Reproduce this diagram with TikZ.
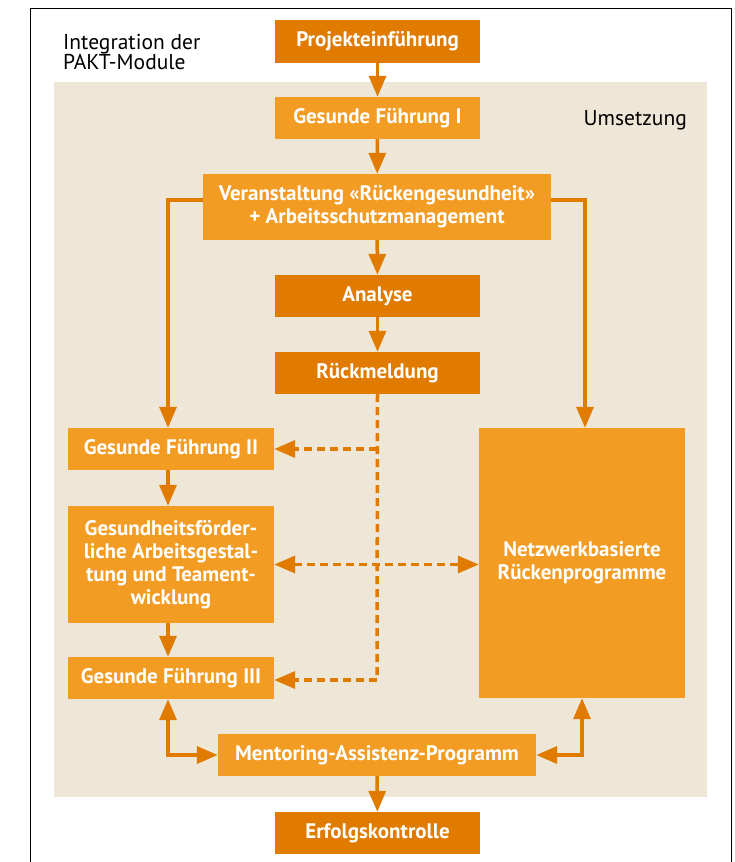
\documentclass[tikz,border=0pt]{standalone}
\usepackage{fontspec}
\setmainfont{PT Sans}
\usetikzlibrary{arrows.meta}
\definecolor{dorange}{HTML}{E07B00}
\definecolor{lorange}{HTML}{F39C24}
\definecolor{beige}{HTML}{EEE6D6}
\begin{document}
\begin{tikzpicture}[x=1pt,y=1pt,
  box/.style={inner sep=0pt, text=white, font=\fontsize{21}{23}\selectfont\bfseries, align=center},
  dbox/.style={box, fill=dorange},
  lbox/.style={box, fill=lorange},
  tip/.tip={Triangle[width=17pt,length=21pt]},
  arr/.style={draw=dorange, line width=3.5pt, -tip},
  darr/.style={arr, dash pattern=on 8pt off 5pt},
  plain/.style={font=\fontsize{21.5}{20}\selectfont, align=left, inner sep=0pt}]
\useasboundingbox (0,0) rectangle (734,-862);
\fill[beige] (54,-82) rectangle (707,-797);
\draw[line width=1pt] (30,-862) -- (30,-8) -- (731,-8) -- (731,-862);
\node[plain, anchor=base west] (intg) at (63,-69) {Integration der\\PAKT-Module};
\node[plain, anchor=base east] (ums) at (687,-125) {Umsetzung};
\node[dbox, minimum width=205pt, minimum height=43pt] (proj) at (377.5,-41.5) {Projekteinführung};
\node[lbox, minimum width=205pt, minimum height=42pt] (gf1) at (377.5,-118) {Gesunde Führung I};
\node[lbox, minimum width=348pt, minimum height=66pt] (ver) at (377,-207) {Veranstaltung «Rückengesundheit»\\+ Arbeitsschutzmanagement};
\node[dbox, minimum width=205pt, minimum height=42pt] (ana) at (377.5,-296) {Analyse};
\node[dbox, minimum width=205pt, minimum height=42pt] (rue) at (377.5,-373) {Rückmeldung};
\node[lbox, minimum width=206pt, minimum height=42pt] (gf2) at (171,-449) {Gesunde Führung II};
\node[lbox, minimum width=206pt, minimum height=117pt] (gfa) at (171,-564.5) {Gesundheitsförder-\\liche Arbeitsgestal-\\tung und Teament-\\wicklung};
\node[lbox, minimum width=206pt, minimum height=42pt] (gf3) at (171,-678) {Gesunde Führung III};
\node[lbox, minimum width=206pt, minimum height=270pt] (netz) at (582,-563) {Netzwerkbasierte\\Rückenprogramme};
\node[lbox, minimum width=318pt, minimum height=42pt] (ment) at (377,-755) {Mentoring-Assistenz-Programm};
\node[dbox, minimum width=205pt, minimum height=42pt] (erf) at (377.5,-833) {Erfolgskontrolle};
\coordinate (j1) at (377,-449);
\coordinate (j2) at (377,-680);
\draw[arr] (proj) -- (gf1);
\draw[arr] (gf1) -- (ver);
\draw[arr] (ver) -- (ana);
\draw[arr] (ana) -- (rue);
\draw[arr] ([yshift=7pt]ver.west) -| ([xshift=-3pt]gf2.north);
\draw[arr] ([yshift=7pt]ver.east) -| ([xshift=3pt]netz.north);
\draw[arr] ([xshift=-3pt]gf2.south) -- ([xshift=-3pt]gfa.north);
\draw[arr] ([xshift=-3pt]gfa.south) -- ([xshift=-3pt]gf3.north);
\draw[darr, -] (rue.south) -- (j2);
\draw[darr] (j2) -- (gf3.east |- j2);
\draw[darr] (j1) -- (gf2.east);
\draw[darr, tip-tip] (gfa.east) -- (netz.west |- gfa.east);
\draw[arr, tip-tip] ([xshift=-3pt]gf3.south) |- (ment.west);
\draw[arr, tip-tip] (netz.south) |- (ment.east);
\draw[arr] (ment) -- (erf);
\end{tikzpicture}
\end{document}
